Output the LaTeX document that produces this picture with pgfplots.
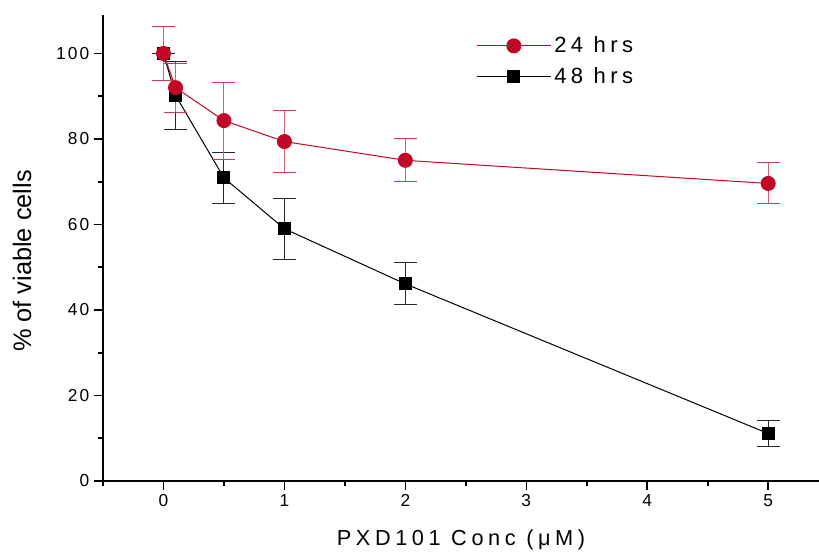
\documentclass[border=0pt]{standalone}
\usepackage{pgfplots}
\pgfplotsset{compat=1.18}
\usepackage{fontspec}
\setmainfont{Liberation Sans}[LetterSpace=20]
\newfontfamily\plainfont{Liberation Sans}
\newfontfamily\tickfont{Liberation Sans}[LetterSpace=12]
\definecolor{redS}{RGB}{192,8,38}
\newlength{\px}\setlength{\px}{0.75pt}

\begin{document}
\begin{tikzpicture}
\begin{axis}[
    scale only axis, width=716\px, height=466\px,
    xmin=-0.5, xmax=5.42, ymin=0, ymax=109,
    axis x line*=bottom, axis y line*=left,
    axis line style={line width=1.5pt, black},
    tick align=outside,
    tick style={black, line width=1.2pt},
    major tick length=9\px, minor tick length=5\px,
    xtick={0,1,2,3,4,5}, minor xtick={-0.5,0.5,1.5,2.5,3.5,4.5},
    ytick={0,20,40,60,80,100}, minor ytick={10,30,50,70,90},
    /pgf/number format/assume math mode=true,
    tick label style={font=\tickfont\fontsize{13}{15}\selectfont},
    xlabel={PXD101 Conc (μM)},
    ylabel={\% of viable cells},
    xlabel style={font=\fontsize{16.3}{18}\selectfont\addfontfeatures{LetterSpace=21},
        at={(axis description cs:0.5,-0.127)}, anchor=center},
    ylabel style={font=\plainfont\fontsize{19}{21}\selectfont,
        at={(axis description cs:-0.113,0.472)}, anchor=center},
    clip=false,
    reverse legend,
    legend style={at={(0.515,0.965)}, anchor=north west, draw=none, fill=none,
        font=\fontsize{16.5}{19}\selectfont, row sep=5.5pt,
        /tikz/every odd column/.append style={column sep=0pt}},
    legend image code/.code={
        \draw[mark repeat=2, mark phase=2, #1] plot coordinates {(0pt,0pt) (28pt,0pt) (56pt,0pt)};},
]
\coordinate (bl) at (rel axis cs:0,0);
\coordinate (tr) at (rel axis cs:1,1);

\addplot[black, line width=0.75pt, mark=square*, mark size=4.5pt,
    mark options={solid, fill=black},
    error bars/.cd, y dir=both, y explicit,
    error bar style={line width=0.75pt, black!85},
    error mark options={rotate=90, mark size=11.5\px, line width=0.75pt, black!85}]
  coordinates {
    (0,100) +- (0,0)
    (0.1,90.2) +- (0,7.9)
    (0.5,70.9) +- (0,5.9)
    (1,59.0) +- (0,7.1)
    (2,46.1) +- (0,4.9)
    (5,11.1) +- (0,3.0)
  };
\addlegendentry{48 hrs}

\addplot[redS, line width=0.75pt, mark=*, mark size=5.25pt,
    mark options={solid, fill=redS},
    error bars/.cd, y dir=both, y explicit,
    error bar style={line width=0.75pt, redS!65},
    error mark options={rotate=90, mark size=11.5\px, line width=0.75pt, redS!80}]
  coordinates {
    (0,100) +- (0,6.3)
    (0.1,92.0) +- (0,5.7)
    (0.5,84.3) +- (0,9.0)
    (1,79.4) +- (0,7.2)
    (2,75.0) +- (0,5.0)
    (5,69.6) +- (0,4.8)
  };
\addlegendentry{24 hrs}
\end{axis}
\pgfresetboundingbox
\path[use as bounding box] ([xshift=-103\px,yshift=-71\px]bl) rectangle ([yshift=15\px]tr);
\end{tikzpicture}
\end{document}
